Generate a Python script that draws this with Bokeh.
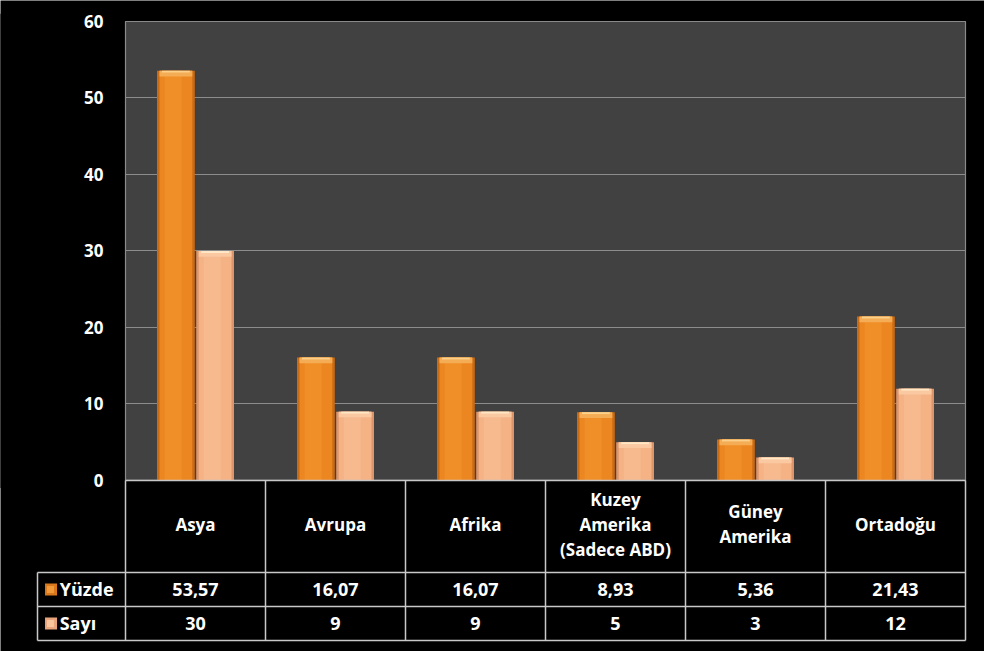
from bokeh.plotting import figure
from bokeh.models import FixedTicker
from bokeh.core.properties import value
from bokeh.embed import file_html
from bokeh.resources import INLINE

# ---- data ----
categories = ["Asya", "Avrupa", "Afrika", "Kuzey\nAmerika\n(Sadece ABD)", "Güney\nAmerika", "Ortadoğu"]
yuzde = [53.57, 16.07, 16.07, 8.93, 5.36, 21.43]
sayi = [30, 9, 9, 5, 3, 12]
series_names = ["Yüzde", "Sayı"]
y_ticks = [0, 10, 20, 30, 40, 50, 60]
Y_MAX = 60

# ---- layout constants (data units) ----
TABLE_DEPTH = 20.92
HEADER = 12.03
ROW = (TABLE_DEPTH - HEADER) / 2
LEGEND_LEFT = -0.6286
BAR_W = 0.27
FONT = value("Open Sans")

n = len(categories)
centers = [i + 0.5 for i in range(n)]
x_y = [c - 0.14 for c in centers]
x_s = [c + 0.14 for c in centers]

PX_X = 140.0
PX_Y = 459.0 / Y_MAX
X_START = LEGEND_LEFT - 37 / PX_X
X_END = n + 19 / PX_X
Y_START = -TABLE_DEPTH - 11 / PX_Y
Y_END = Y_MAX + 21 / PX_Y

p = figure(width=984, height=651,
           x_range=(X_START, X_END), y_range=(Y_START, Y_END),
           output_backend="svg", toolbar_location=None,
           x_axis_location=None,
           min_border_left=0, min_border_top=0,
           min_border_right=0, min_border_bottom=0,
           background_fill_color="#000000",
           border_fill_color="#000000",
           outline_line_color=None)

# axis (labels placed inside the frame, right-aligned at the plot area's left)
p.yaxis.ticker = FixedTicker(ticks=y_ticks)
p.yaxis.axis_line_color = None
p.yaxis.major_tick_line_color = None
p.yaxis.minor_tick_line_color = None
p.yaxis.major_tick_out = 0
p.yaxis.major_tick_in = 0
p.yaxis.major_label_standoff = -103
p.yaxis.major_label_text_color = "#ffffff"
p.yaxis.major_label_text_font = "Open Sans"
p.yaxis.major_label_text_font_style = "bold"
p.yaxis.major_label_text_font_size = "17px"

p.xgrid.visible = False
p.ygrid.ticker = FixedTicker(ticks=y_ticks)
p.ygrid.grid_line_color = "#8c8c8c"
p.ygrid.grid_line_width = 1

# gray plot area drawn beneath the grid
p.quad(left=[0], right=[n], bottom=[0], top=[Y_MAX],
       fill_color="#414141", line_color=None, level="image")
# black covers for grid lines outside the plot area
p.quad(left=[X_START - 1, n], right=[0, X_END + 1], bottom=[-1, -1], top=[Y_MAX + 1, Y_MAX + 1],
       fill_color="#000000", line_color=None)

# plot area border
p.quad(left=[0], right=[n], bottom=[0], top=[Y_MAX],
       fill_color=None, line_color="#8a8a8a", line_width=1.2)

# ---- bars with pseudo-gradient ----
inset = 2.5 / PX_X
bev = 0.75

def bars(xs, vals, edge, body, center, bevel, topline):
    p.vbar(x=xs, width=BAR_W, top=vals, bottom=0, fill_color=edge, line_color=None)
    p.vbar(x=xs, width=BAR_W - 2 * inset, top=vals, bottom=0, fill_color=body, line_color=None)
    p.vbar(x=[x - 0.02 for x in xs], width=BAR_W * 0.45, top=vals, bottom=0,
           fill_color=center, line_color=None, fill_alpha=0.6)
    p.vbar(x=xs, width=BAR_W - 2 * inset, top=vals, bottom=[v - bev for v in vals],
           fill_color=bevel, line_color=None)
    p.vbar(x=xs, width=BAR_W - 4 * inset, top=vals, bottom=[v - 0.25 for v in vals],
           fill_color=topline, line_color=None)

bars(x_y, yuzde, "#C96A14", "#EC8620", "#F3962E", "#F5AD55", "#FBD08A")
bars(x_s, sayi, "#DC9468", "#F5B284", "#F8BE95", "#FAC9A2", "#FFE6C4")

# ---- table lines ----
LINE = "#c8c8c8"
hy = [0, -HEADER, -HEADER - ROW, -TABLE_DEPTH]
hx0 = [0, LEGEND_LEFT, LEGEND_LEFT, LEGEND_LEFT]
p.segment(x0=hx0, y0=hy, x1=[n] * 4, y1=hy, line_color=LINE, line_width=1.5)
vx = list(range(n + 1))
p.segment(x0=vx, y0=[0] * len(vx), x1=vx, y1=[-TABLE_DEPTH] * len(vx),
          line_color=LINE, line_width=1.5)
p.segment(x0=[LEGEND_LEFT], y0=[-HEADER], x1=[LEGEND_LEFT], y1=[-TABLE_DEPTH],
          line_color=LINE, line_width=1.5)

# ---- table texts ----
def fmt(v):
    return f"{v:.2f}".replace(".", ",")

p.text(x=centers, y=[-HEADER / 2 + 0.3] * n, text=categories,
       text_color="#ffffff", text_font=FONT, text_font_style="bold",
       text_font_size="17px", text_align="center", text_baseline="middle",
       text_line_height=1.08)
p.text(x=centers, y=[-HEADER - ROW / 2] * n, text=[fmt(v) for v in yuzde],
       text_color="#ffffff", text_font=FONT, text_font_style="bold",
       text_font_size="18px", text_align="center", text_baseline="middle")
p.text(x=centers, y=[-HEADER - 1.5 * ROW] * n, text=[str(v) for v in sayi],
       text_color="#ffffff", text_font=FONT, text_font_style="bold",
       text_font_size="18px", text_align="center", text_baseline="middle")

# legend keys in table
leg_y = [-HEADER - ROW / 2, -HEADER - 1.5 * ROW]
p.rect(x=[-0.532] * 2, y=leg_y, width=12, height=12, width_units="screen",
       height_units="screen", fill_color=["#D9781C", "#E8A47A"], line_color=None)
p.rect(x=[-0.536] * 2, y=leg_y, width=7, height=7, width_units="screen",
       height_units="screen", fill_color=["#F29A3A", "#F8C49C"], line_color=None)
p.text(x=[-0.47] * 2, y=leg_y, text=series_names,
       text_color="#ffffff", text_font=FONT, text_font_style="bold",
       text_font_size="18px", text_align="left", text_baseline="middle")

open("out.html", "w").write(file_html(p, INLINE))
